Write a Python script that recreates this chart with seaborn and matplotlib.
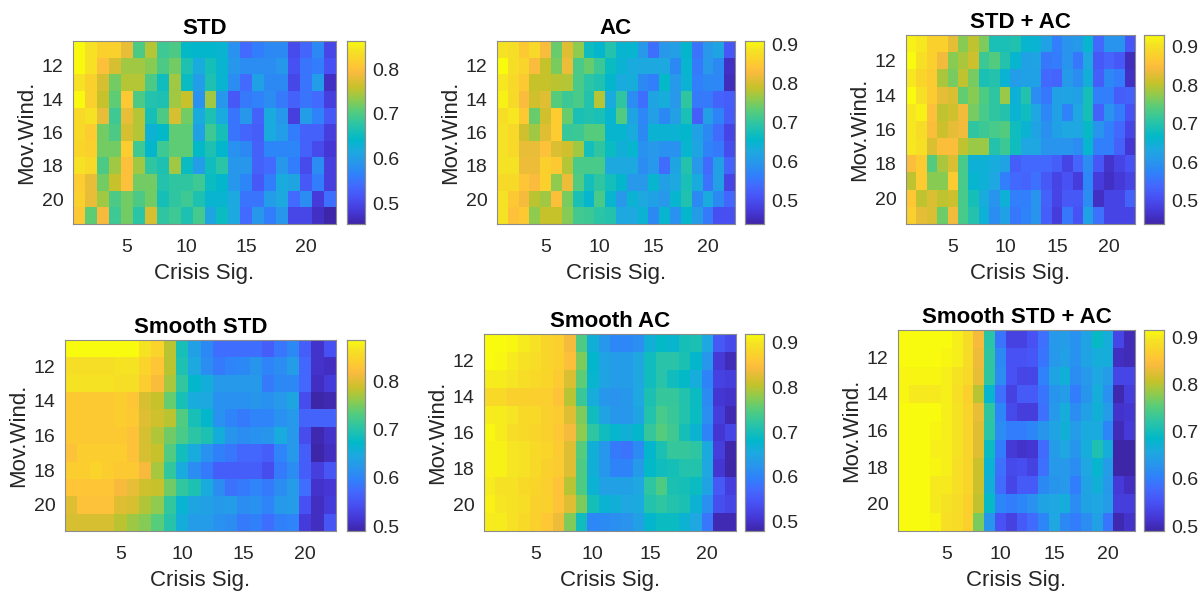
import numpy as np
import matplotlib
matplotlib.use("Agg")
import matplotlib.pyplot as plt
import seaborn as sns
from matplotlib.colors import LinearSegmentedColormap

# axis values
crisis_sig = list(range(1, 23))
mov_wind = list(range(11, 22))
x_tick_vals = [5, 10, 15, 20]
y_tick_vals = [12, 14, 16, 18, 20]

# one row per moving window (11..21)
std_vals = [
    [.86,.84,.82,.82,.78,.70,.75,.69,.70,.645,.64,.64,.635,.585,.54,.56,.575,.575,.505,.535,.575,.50],
    [.86,.84,.80,.77,.74,.74,.73,.70,.72,.665,.62,.66,.635,.59,.58,.58,.58,.59,.51,.55,.56,.51],
    [.84,.82,.77,.72,.75,.75,.70,.655,.74,.65,.60,.665,.635,.58,.54,.605,.575,.575,.50,.55,.60,.47],
    [.86,.82,.76,.71,.81,.70,.67,.665,.74,.76,.585,.74,.59,.52,.555,.565,.58,.555,.53,.55,.54,.49],
    [.83,.84,.78,.69,.78,.75,.66,.70,.77,.72,.62,.665,.62,.55,.59,.53,.62,.59,.49,.60,.565,.52],
    [.83,.815,.72,.70,.77,.75,.63,.645,.71,.71,.605,.69,.66,.55,.535,.525,.62,.60,.56,.53,.53,.49],
    [.825,.82,.72,.72,.815,.69,.64,.69,.71,.71,.645,.665,.64,.585,.575,.53,.57,.57,.57,.53,.505,.48],
    [.84,.83,.70,.74,.80,.74,.68,.665,.74,.65,.60,.655,.675,.59,.59,.53,.54,.59,.56,.505,.58,.49],
    [.815,.78,.72,.76,.80,.72,.72,.67,.68,.68,.69,.65,.64,.59,.57,.52,.56,.62,.61,.52,.56,.49],
    [.82,.78,.74,.70,.72,.70,.72,.66,.68,.69,.665,.635,.635,.615,.55,.55,.60,.615,.54,.58,.485,.545],
    [.81,.71,.79,.69,.72,.675,.77,.68,.69,.665,.695,.61,.65,.615,.54,.59,.56,.59,.50,.50,.47,.455],
]
ac_vals = [
    [.885,.88,.85,.87,.83,.74,.81,.76,.67,.655,.69,.65,.65,.60,.545,.60,.61,.655,.55,.60,.62,.515],
    [.91,.88,.865,.83,.79,.75,.82,.72,.74,.71,.665,.645,.63,.625,.625,.625,.58,.65,.56,.60,.58,.46],
    [.89,.87,.85,.79,.79,.785,.78,.72,.695,.685,.655,.63,.635,.58,.565,.66,.60,.645,.565,.58,.575,.455],
    [.90,.875,.83,.80,.81,.73,.71,.72,.69,.78,.63,.70,.585,.545,.62,.635,.60,.70,.56,.56,.53,.525],
    [.88,.89,.85,.74,.80,.855,.74,.68,.685,.68,.65,.725,.62,.575,.61,.58,.61,.68,.525,.61,.57,.52],
    [.885,.87,.80,.77,.81,.855,.705,.71,.73,.73,.65,.65,.63,.58,.645,.645,.645,.655,.615,.58,.54,.49],
    [.885,.87,.815,.815,.84,.805,.80,.77,.675,.70,.665,.64,.65,.59,.60,.59,.59,.65,.62,.57,.56,.50],
    [.885,.885,.82,.82,.86,.85,.78,.72,.72,.72,.625,.625,.625,.585,.60,.54,.62,.69,.60,.54,.61,.53],
    [.875,.875,.845,.83,.86,.76,.82,.725,.675,.70,.675,.655,.60,.60,.65,.61,.625,.68,.63,.55,.61,.49],
    [.885,.85,.825,.785,.77,.835,.75,.68,.65,.72,.65,.60,.645,.625,.615,.60,.65,.685,.58,.63,.58,.535],
    [.885,.84,.85,.76,.79,.79,.755,.715,.71,.695,.69,.625,.625,.645,.58,.65,.59,.655,.605,.56,.505,.505],
]
std_ac_vals = [
    [.92,.91,.88,.88,.83,.77,.80,.765,.69,.69,.695,.66,.655,.62,.57,.60,.61,.66,.54,.60,.60,.515],
    [.93,.90,.88,.84,.77,.79,.81,.72,.74,.70,.66,.62,.625,.56,.565,.60,.56,.63,.52,.535,.52,.455],
    [.91,.885,.87,.79,.76,.80,.76,.69,.70,.655,.615,.62,.62,.54,.535,.61,.59,.645,.525,.585,.565,.46],
    [.93,.90,.87,.83,.82,.75,.77,.735,.71,.78,.65,.70,.59,.56,.62,.625,.62,.685,.57,.57,.525,.53],
    [.91,.92,.855,.80,.815,.84,.76,.73,.71,.70,.655,.68,.63,.58,.62,.575,.63,.685,.53,.60,.565,.51],
    [.91,.895,.85,.81,.83,.84,.71,.72,.73,.74,.68,.655,.625,.595,.62,.63,.63,.67,.60,.57,.54,.49],
    [.91,.90,.82,.85,.85,.80,.78,.78,.70,.72,.68,.63,.63,.60,.60,.60,.59,.66,.57,.57,.53,.47],
    [.85,.87,.74,.79,.82,.73,.65,.65,.64,.625,.525,.54,.54,.54,.525,.49,.535,.59,.515,.465,.49,.51],
    [.80,.87,.77,.77,.87,.73,.66,.65,.63,.57,.54,.535,.55,.52,.49,.51,.48,.58,.48,.46,.475,.49],
    [.865,.80,.82,.80,.81,.73,.685,.64,.60,.65,.57,.57,.60,.53,.49,.52,.52,.59,.46,.49,.49,.53],
    [.875,.83,.82,.755,.84,.73,.70,.65,.59,.62,.56,.575,.60,.525,.48,.56,.51,.62,.55,.49,.49,.49],
]
smooth_std_vals = [
    [.885,.885,.885,.885,.885,.885,.865,.845,.78,.69,.635,.605,.575,.575,.575,.575,.56,.585,.605,.56,.51,.545],
    [.86,.86,.86,.86,.865,.865,.845,.83,.78,.695,.645,.61,.59,.60,.605,.62,.60,.61,.63,.57,.51,.505],
    [.865,.865,.865,.865,.86,.86,.84,.82,.77,.71,.67,.655,.625,.625,.625,.625,.59,.605,.605,.57,.505,.52],
    [.835,.835,.835,.835,.84,.83,.795,.785,.74,.69,.65,.645,.615,.615,.615,.62,.615,.625,.64,.54,.49,.495],
    [.835,.835,.835,.835,.84,.835,.80,.79,.78,.73,.69,.67,.615,.60,.59,.60,.60,.615,.625,.565,.565,.565],
    [.835,.835,.835,.835,.835,.825,.795,.775,.745,.725,.705,.695,.655,.62,.61,.615,.62,.65,.625,.54,.495,.51],
    [.825,.84,.84,.84,.84,.825,.795,.785,.73,.685,.65,.615,.595,.585,.57,.57,.56,.60,.625,.56,.49,.505],
    [.84,.84,.845,.84,.835,.835,.815,.77,.71,.65,.61,.59,.56,.56,.56,.56,.54,.59,.61,.56,.525,.55],
    [.83,.83,.83,.83,.815,.805,.79,.785,.745,.71,.695,.65,.61,.58,.59,.60,.59,.61,.63,.575,.51,.515],
    [.80,.825,.825,.825,.80,.795,.775,.76,.71,.665,.64,.635,.625,.63,.61,.615,.60,.625,.63,.545,.505,.52],
    [.795,.795,.795,.795,.78,.765,.755,.735,.70,.655,.63,.63,.615,.61,.59,.595,.575,.595,.60,.52,.505,.55],
]
smooth_ac_vals = [
    [.92,.92,.915,.905,.895,.88,.87,.84,.745,.665,.625,.605,.605,.615,.665,.685,.675,.70,.705,.65,.55,.53],
    [.92,.915,.905,.895,.89,.88,.87,.85,.77,.68,.645,.635,.635,.65,.695,.715,.715,.705,.68,.625,.51,.49],
    [.905,.905,.90,.89,.885,.88,.865,.82,.755,.675,.645,.635,.635,.65,.695,.715,.695,.685,.66,.60,.52,.515],
    [.885,.885,.875,.875,.87,.87,.855,.80,.73,.66,.625,.62,.625,.65,.705,.725,.725,.71,.69,.61,.505,.50],
    [.905,.905,.90,.885,.885,.875,.865,.825,.77,.695,.645,.625,.625,.645,.71,.74,.73,.71,.69,.615,.515,.485],
    [.915,.905,.89,.885,.88,.875,.86,.84,.78,.72,.695,.675,.665,.68,.725,.75,.735,.70,.67,.60,.505,.525],
    [.91,.91,.90,.895,.885,.88,.865,.825,.75,.665,.625,.59,.58,.61,.68,.705,.725,.725,.72,.655,.515,.48],
    [.91,.91,.90,.895,.885,.875,.865,.825,.745,.665,.625,.60,.60,.63,.685,.695,.70,.71,.71,.65,.505,.478],
    [.905,.895,.895,.885,.88,.87,.855,.80,.745,.67,.64,.64,.64,.65,.72,.745,.705,.70,.69,.645,.55,.515],
    [.91,.90,.895,.89,.875,.875,.855,.825,.77,.70,.67,.665,.65,.655,.71,.72,.71,.705,.67,.615,.535,.525],
    [.905,.905,.895,.885,.875,.86,.835,.77,.695,.605,.61,.615,.62,.64,.68,.69,.69,.67,.65,.585,.485,.485],
]
smooth_std_ac_vals = [
    [.915,.915,.915,.915,.915,.905,.885,.84,.72,.59,.53,.53,.55,.585,.635,.64,.625,.65,.69,.665,.535,.50],
    [.915,.915,.915,.915,.91,.905,.885,.835,.725,.615,.55,.55,.555,.59,.635,.645,.625,.65,.665,.665,.505,.50],
    [.91,.91,.91,.91,.905,.895,.88,.83,.725,.62,.55,.535,.535,.605,.65,.67,.62,.635,.655,.64,.535,.535],
    [.91,.90,.90,.90,.905,.89,.87,.80,.68,.585,.53,.56,.56,.59,.63,.64,.60,.63,.665,.625,.495,.525],
    [.915,.915,.915,.915,.905,.895,.875,.83,.725,.61,.54,.525,.525,.585,.635,.665,.62,.645,.67,.64,.51,.515],
    [.92,.915,.915,.91,.905,.895,.875,.825,.72,.62,.60,.60,.61,.63,.65,.67,.64,.66,.66,.61,.50,.52],
    [.915,.915,.915,.905,.905,.895,.875,.825,.695,.60,.52,.51,.515,.58,.64,.655,.63,.665,.71,.665,.49,.49],
    [.915,.915,.915,.91,.905,.89,.875,.81,.675,.585,.54,.545,.53,.585,.635,.635,.62,.655,.68,.64,.49,.49],
    [.915,.915,.915,.90,.90,.89,.875,.81,.67,.58,.535,.56,.56,.615,.63,.635,.60,.65,.67,.635,.52,.505],
    [.915,.915,.915,.90,.895,.885,.87,.805,.69,.61,.60,.61,.625,.65,.655,.665,.62,.65,.655,.64,.525,.525],
    [.915,.915,.915,.91,.89,.885,.87,.77,.63,.55,.53,.56,.58,.61,.655,.615,.60,.62,.645,.59,.495,.51],
]

# matlab parula, anchors placed at their index out of 63
parula = LinearSegmentedColormap.from_list("parula", [
    (0 / 63, (0.2422, 0.1504, 0.6603)), (4 / 63, (0.2706, 0.2147, 0.8364)),
    (9 / 63, (0.2810, 0.3228, 0.9579)), (13 / 63, (0.2602, 0.4123, 0.9952)),
    (17 / 63, (0.1834, 0.5074, 0.9798)), (21 / 63, (0.1540, 0.5902, 0.9218)),
    (25 / 63, (0.1113, 0.6635, 0.8763)), (29 / 63, (0.0036, 0.7203, 0.7917)),
    (32 / 63, (0.0964, 0.7500, 0.7120)), (35 / 63, (0.1938, 0.7758, 0.6251)),
    (39 / 63, (0.3406, 0.8008, 0.4789)), (43 / 63, (0.5616, 0.7942, 0.3045)),
    (47 / 63, (0.7738, 0.7598, 0.1646)), (52 / 63, (0.9728, 0.7298, 0.2394)),
    (54 / 63, (0.9970, 0.7659, 0.2199)), (57 / 63, (0.9786, 0.8303, 0.1644)),
    (60 / 63, (0.9600, 0.8900, 0.1400)), (63 / 63, (0.9763, 0.9831, 0.0538)),
], N=256)

W, H = 1204, 592
text_col = "#262626"
edge_col = "#8c8c8c"

sns.set_theme(style="white")
plt.rcParams["font.family"] = ["Liberation Sans", "DejaVu Sans"]

# title, values, heatmap box (left, right, top, bottom in px), colorbar (left, right), color limits, colorbar ticks
panels = [
    ("STD", std_vals, (73, 336, 41, 224), (347, 365), (.454, .863), [.5, .6, .7, .8]),
    ("AC", ac_vals, (497, 735, 41, 224), (745, 764), (.441, .91), [.5, .6, .7, .8, .9]),
    ("STD + AC", std_ac_vals, (906, 1135, 35, 224), (1144, 1164), (.44, .93), [.5, .6, .7, .8, .9]),
    ("Smooth STD", smooth_std_vals, (65, 336, 340, 531), (347, 365), (.49, .885), [.5, .6, .7, .8]),
    ("Smooth AC", smooth_ac_vals, (484, 736, 334, 531), (745, 764), (.478, .92), [.5, .6, .7, .8, .9]),
    ("Smooth STD + AC", smooth_std_ac_vals, (898, 1135, 330, 531), (1144, 1164), (.49, .915), [.5, .6, .7, .8, .9]),
]

fig = plt.figure(figsize=(W / 100, H / 100), dpi=100)

for title, vals, box, cb, lims, cb_ticks in panels:
    left, right, top, bottom = box
    ax = fig.add_axes([left / W, 1 - bottom / H, (right - left) / W, (bottom - top) / H])
    cax = fig.add_axes([cb[0] / W, 1 - bottom / H, (cb[1] - cb[0]) / W, (bottom - top) / H])
    sns.heatmap(np.array(vals), ax=ax, cbar_ax=cax, cmap=parula, vmin=lims[0], vmax=lims[1],
                xticklabels=False, yticklabels=False, square=False)

    # cell centres sit at +0.5 in seaborn
    ax.set_xticks([crisis_sig.index(v) + 0.5 for v in x_tick_vals])
    ax.set_xticklabels(x_tick_vals)
    ax.set_yticks([mov_wind.index(v) + 0.5 for v in y_tick_vals])
    ax.set_yticklabels(y_tick_vals, rotation=0)
    ax.tick_params(axis="x", pad=11)
    ax.tick_params(axis="y", pad=7)
    ax.tick_params(direction="in", length=2.5, width=0.6, color="#404040", labelsize=14,
                   labelcolor=text_col, bottom=True, left=True, top=True, right=True)
    ax.set_xlabel("Crisis Sig.", fontsize=16, color=text_col, labelpad=5)
    ax.set_ylabel("Mov.Wind.", fontsize=16, color=text_col, labelpad=3)
    ax.set_title(title, fontsize=16, fontweight="bold", color="black", pad=5)
    for s in ax.spines.values():
        s.set_visible(True)
        s.set_color(edge_col)
        s.set_linewidth(0.8)

    cax.set_yticks(cb_ticks)
    cax.set_yticklabels([f"{t:.1f}" for t in cb_ticks])
    cax.tick_params(direction="in", length=2.5, width=0.6, color="#404040", labelsize=14,
                    labelcolor=text_col, pad=5, right=True)
    for s in cax.spines.values():
        s.set_visible(True)
        s.set_color(edge_col)
        s.set_linewidth(0.8)

fig.savefig("out.png", dpi=100)
